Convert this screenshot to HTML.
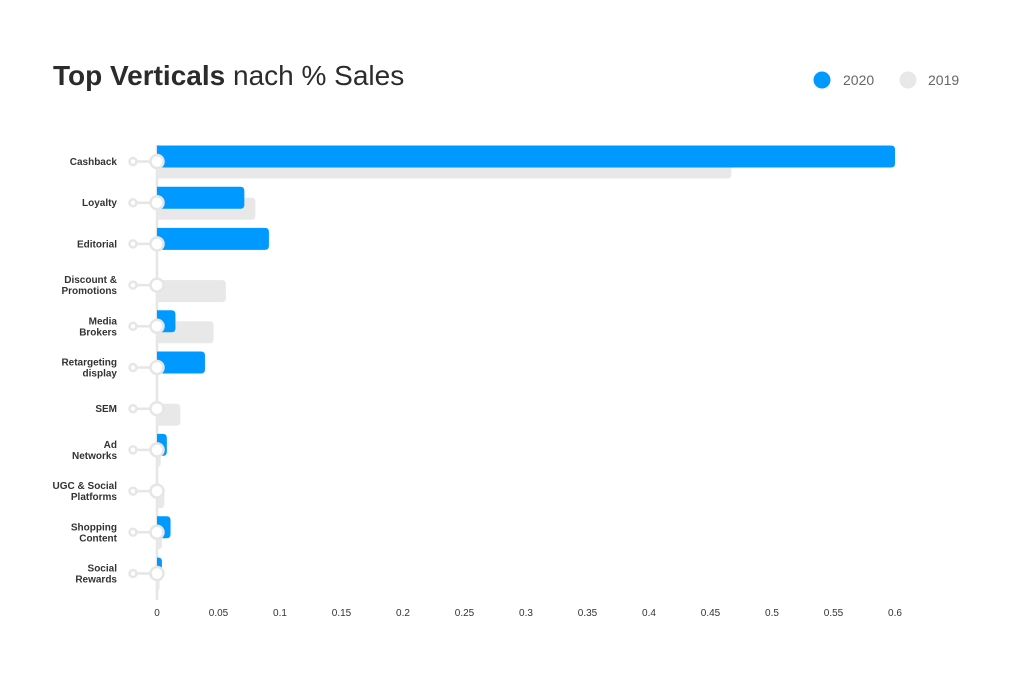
<!DOCTYPE html>
<html><head><meta charset="utf-8"><style>
body{margin:0;background:#fff;}
svg{display:block;font-family:"Liberation Sans",sans-serif;}
</style></head><body>
<svg id="chart" width="1025" height="682" viewBox="0 0 1025 682">
<text x="53" y="85" font-size="28" fill="#2b2b2b"><tspan font-weight="bold">Top Verticals</tspan> nach % Sales</text>
<g>
<circle cx="822" cy="80" r="8.5" fill="#0099ff"/>
<text x="843" y="85" font-size="14" fill="#666">2020</text>
<circle cx="908" cy="80" r="8.5" fill="#e8e8e8"/>
<text x="928" y="85" font-size="14" fill="#666">2019</text>
</g>
<g id="plot"></g>
</svg>
<script>
const categories=[["Cashback"],["Loyalty"],["Editorial"],["Discount &","Promotions"],["Media","Brokers"],["Retargeting","display"],["SEM"],["Ad","Networks"],["UGC & Social","Platforms"],["Shopping","Content"],["Social","Rewards"]];
const values2020=[0.6,0.071,0.091,0,0.015,0.039,0,0.008,0,0.011,0.004];
const values2019=[0.467,0.080,0,0.056,0.046,0,0.019,0.003,0.006,0.004,0.002];
const ticks=[0,0.05,0.1,0.15,0.2,0.25,0.3,0.35,0.4,0.45,0.5,0.55,0.6];
const NS="http://www.w3.org/2000/svg";
const g=document.getElementById('plot');
const x=v=>157+v*1230;
const y=i=>161.5+i*41.2;
function mk(t,a){const e=document.createElementNS(NS,t);for(const k in a)e.setAttribute(k,a[k]);g.appendChild(e);return e;}
function bar(v,top,fill){const x0=x(0),w=x(v)-x0;if(w<=0)return null;const r=Math.min(4,w);
return mk('path',{d:`M${x0},${top}H${x0+w-r}Q${x0+w},${top} ${x0+w},${top+r}V${top+22-r}Q${x0+w},${top+22} ${x0+w-r},${top+22}H${x0}Z`,fill:fill});}
let ax=mk('line',{x1:157,x2:157,y1:145,y2:600,stroke:'#e6e6e6','stroke-width':2.5});


categories.forEach((c,i)=>{
 const cy=y(i);
 let b=bar(values2019[i],cy-5,'#e8e8e8');
 if(b){}
 b=bar(values2020[i],cy-16,'#0099ff');
 if(b){}
 let l=mk('line',{x1:133,x2:157,y1:cy,y2:cy,stroke:'#e6e6e6','stroke-width':2.5});
 
 
 let s=mk('circle',{cx:133,cy:cy,r:3.5,fill:'#fff',stroke:'#e6e6e6','stroke-width':2.5});
 
 
 let m=mk('circle',{cx:157,cy:cy,r:6.5,fill:'#fff',stroke:'#e6e6e6','stroke-width':2.5});
 
 
 const t=mk('text',{x:117,'text-anchor':'end','font-size':10,'font-weight':'bold',fill:'#333'});
 
 
 c.forEach((line,j)=>{const ts=document.createElementNS(NS,'tspan');ts.setAttribute('x',117);ts.setAttribute('y',cy+3.5+(j-(c.length-1)/2)*11);ts.textContent=line;t.appendChild(ts);});
});
ticks.forEach(v=>{const t=mk('text',{x:x(v),y:616,'text-anchor':'middle','font-size':10,fill:'#333'});t.textContent=String(v);
 
 });
</script>
</body></html>
